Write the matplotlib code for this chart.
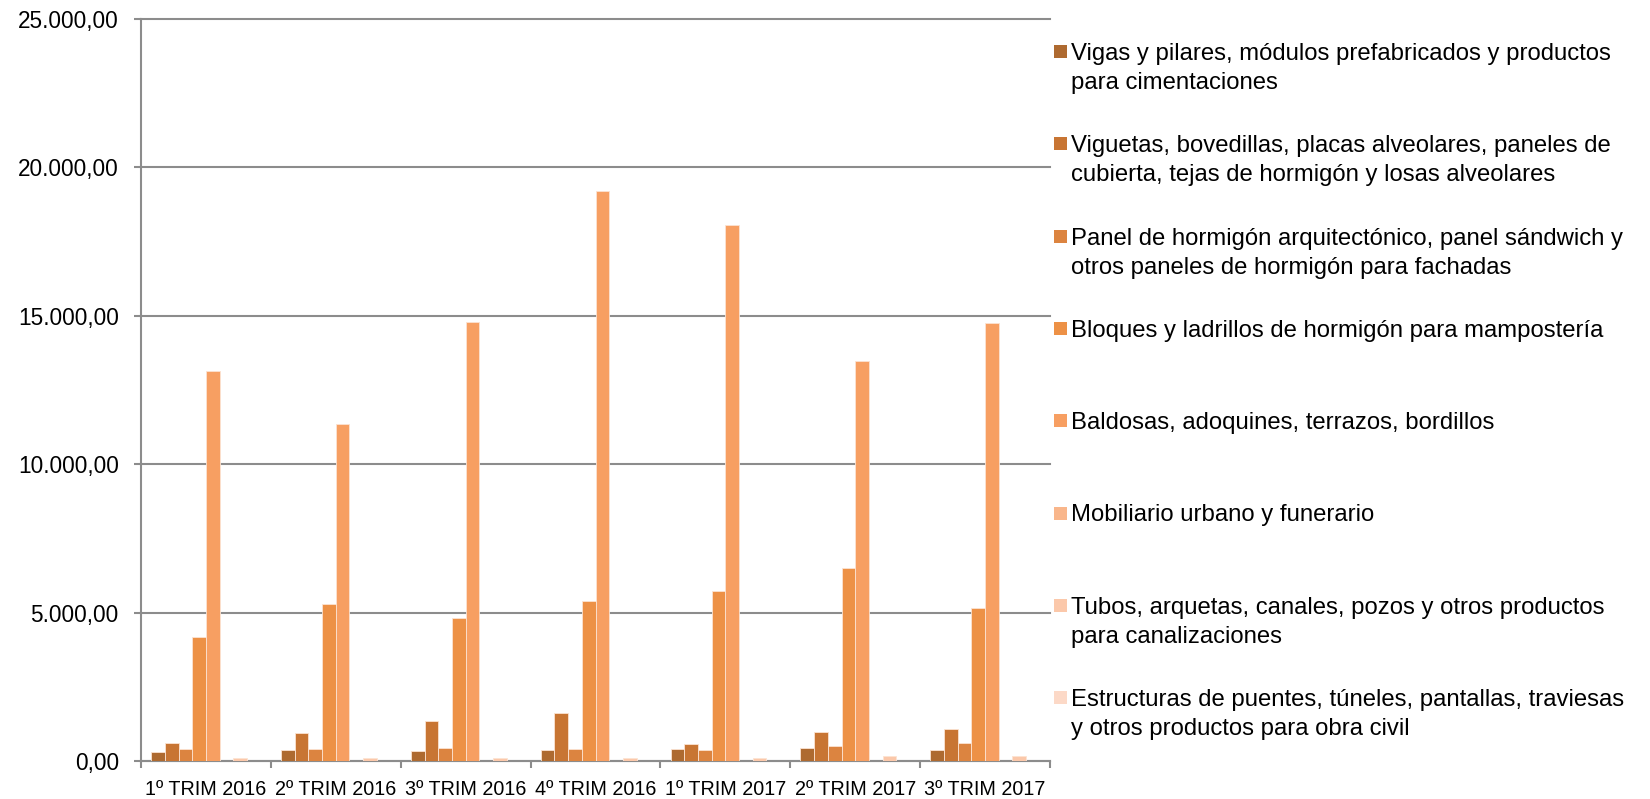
import matplotlib.pyplot as plt
from matplotlib.patches import Rectangle
import numpy as np

# periods on the x axis
periods = ['1º TRIM 2016', '2º TRIM 2016', '3º TRIM 2016', '4º TRIM 2016',
           '1º TRIM 2017', '2º TRIM 2017', '3º TRIM 2017']

# one list per product family
vigas = [292, 360, 336, 370, 403, 448, 360]
viguetas = [595, 931, 1335, 1614, 561, 975, 1066]
panel = [393, 403, 427, 393, 370, 515, 595]
bloques = [4193, 5303, 4819, 5380, 5727, 6490, 5168]
baldosas = [13130, 11360, 14790, 19220, 18050, 13480, 14760]
mobiliario = [0, 0, 0, 0, 0, 0, 0]
tubos = [112, 112, 112, 112, 112, 157, 157]
estructuras = [0, 0, 0, 0, 0, 0, 0]

labels = [
    'Vigas y pilares, módulos prefabricados y productos\npara cimentaciones',
    'Viguetas, bovedillas, placas alveolares, paneles de\ncubierta, tejas de hormigón y losas alveolares',
    'Panel de hormigón arquitectónico, panel sándwich y\notros paneles de hormigón para fachadas',
    'Bloques y ladrillos de hormigón para mampostería',
    'Baldosas, adoquines, terrazos, bordillos',
    'Mobiliario urbano y funerario',
    'Tubos, arquetas, canales, pozos y otros productos\npara canalizaciones',
    'Estructuras de puentes, túneles, pantallas, traviesas\ny otros productos para obra civil',
]
series = [vigas, viguetas, panel, bloques, baldosas, mobiliario, tubos, estructuras]
colors = ['#AE6A30', '#C87533', '#DC8440', '#ED9146',
          '#F79F62', '#F9B68B', '#FBC8AA', '#FCD9C7']

plt.rcParams['font.family'] = ['Liberation Sans', 'DejaVu Sans']

W, H = 1650, 799
fig = plt.figure(figsize=(16.5, 7.99), dpi=100)
ax = fig.add_axes([141 / W, 1 - 761 / H, (1050 - 141) / W, (761 - 19) / H])

grid_c = '#8C8C8C'
x = np.arange(len(periods))
bw = 0.1055
for i, (vals, c) in enumerate(zip(series, colors)):
    ax.bar(x + (i - 3.5) * bw, vals, width=bw, color=c,
           edgecolor='#FCE3D2', linewidth=0.6, zorder=3)

ax.set_xlim(-0.5, len(periods) - 0.5)
ax.set_ylim(0, 25000)
yt = np.arange(0, 25001, 5000)
ax.set_yticks(yt)
ax.set_yticklabels([f'{v:,.2f}'.replace(',', 'X').replace('.', ',').replace('X', '.') for v in yt],
                   fontsize=16.3)
ax.set_xticks(x)
ax.set_xticklabels(periods, fontsize=14.2)
ax.set_xticks(np.arange(-0.5, len(periods)), minor=True)

ax.tick_params(axis='y', direction='out', length=5, width=1.5, color=grid_c, pad=11)
ax.tick_params(axis='x', which='major', length=0, pad=14)
ax.tick_params(axis='x', which='minor', direction='out', length=5, width=1.5, color=grid_c)

ax.yaxis.grid(True, color=grid_c, linewidth=1.5, zorder=0)
for gl in ax.get_ygridlines():
    gl.set_clip_on(False)
ax.set_axisbelow(True)

for s in ['top', 'right']:
    ax.spines[s].set_visible(False)
for s in ['left', 'bottom']:
    ax.spines[s].set_color(grid_c)
    ax.spines[s].set_linewidth(1.5)

# legend drawn by hand so the swatch sits on the first line of each label
for i, (lab, c) in enumerate(zip(labels, colors)):
    top = 45 + 92.3 * i
    fig.add_artist(Rectangle((1054 / W, 1 - (top + 13) / H), 13 / W, 13 / H,
                             transform=fig.transFigure, facecolor=c, edgecolor='none'))
    for k, line in enumerate(lab.split('\n')):
        base = top + 15 + 29 * k
        fig.text(1071 / W, 1 - base / H, line, fontsize=17.2, va='baseline', ha='left')

fig.savefig('out.png', dpi=100)
